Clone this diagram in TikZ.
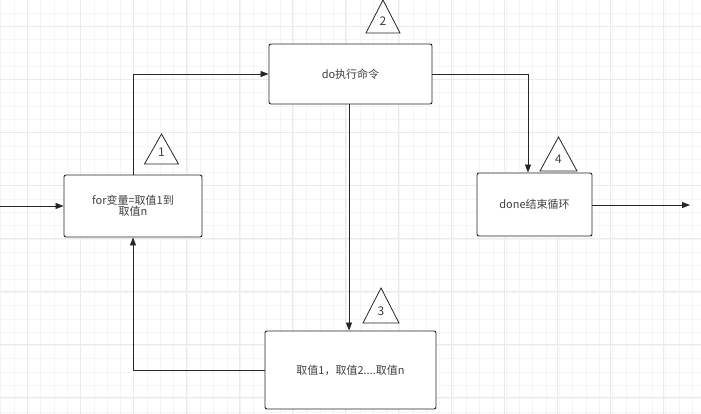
\documentclass[tikz,border=0pt]{standalone}
\usepackage{fontspec}
\setmainfont{Noto Sans CJK SC}
\usetikzlibrary{arrows.meta}
\begin{document}
\begin{tikzpicture}[x=1pt,y=-1pt,
 box/.style={draw=black!85,line width=0.9pt,rounded corners=2pt,fill=white,align=center,font=\fontsize{11}{12}\selectfont,text=black!75},
 tri/.style={draw=black!85,line width=0.8pt,fill=white},
 arr/.style={draw=black!85,line width=0.8pt,-{Triangle[length=8pt,width=6pt]}}]
\useasboundingbox (0,0) rectangle (701,414);
\fill[white] (0,0) rectangle (701,414);
\foreach \x in {0.7,14,...,701} \draw[black!4,line width=0.6pt] (\x,0) -- (\x,414);
\foreach \y in {-0.4,12.9,...,414} \draw[black!4,line width=0.6pt] (0,\y) -- (701,\y);
\foreach \x in {27,80,...,701} \draw[black!8,line width=0.8pt] (\x,0) -- (\x,414);
\foreach \y in {26,79,...,414} \draw[black!8,line width=0.8pt] (0,\y) -- (701,\y);
\node[box,minimum width=138pt,minimum height=62pt] (for) at (133,206) {for变量=取值1到\\[-1pt]取值n};
\node[box,minimum width=163pt,minimum height=60pt] (do) at (350.5,74) {do执行命令};
\node[box,minimum width=115pt,minimum height=63pt] (done) at (534.5,204.5) {done结束循环};
\node[box,minimum width=171pt,minimum height=78pt] (val) at (350.5,370) {取值1，取值2....取值n};
\coordinate (in) at (0,206);
\coordinate (out) at (690,205);
\draw[arr] (in) -- (for.west);
\draw[arr] (for.north) |- (do.west);
\draw[arr] (do.east) -| (done.north -| 528,0);
\draw[arr] (do.south -| 349,0) -- (val.north -| 349,0);
\draw[arr] (val.west) -| (for.south);
\draw[arr] (done.east |- out) -- (out);
\foreach \n/\cx/\ty/\by/\hw in {1/161.5/134/164/17, 2/383/0/33/17, 3/381/288/323/18, 4/558.5/137/171/18.5}{
 \draw[tri] (\cx-\hw,\by) -- (\cx,\ty) -- (\cx+\hw,\by) -- cycle;
 \node[font=\fontsize{12}{13}\selectfont,text=black!75] (t\n) at (\cx,\by-12) {\n};
}
\end{tikzpicture}
\end{document}
